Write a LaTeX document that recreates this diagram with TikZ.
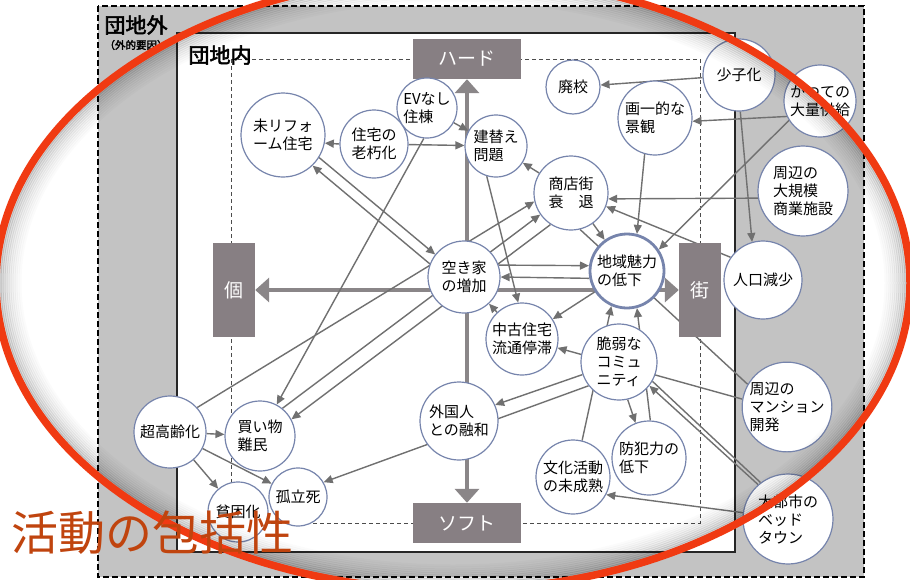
\documentclass[tikz,border=0pt]{standalone}
\usepackage{fontspec}
\setmainfont{Noto Sans CJK JP}[AutoFakeBold=2.5]
\usetikzlibrary{arrows.meta}

\definecolor{boxgray}{RGB}{135,127,131}
\definecolor{outgray}{RGB}{195,195,195}
\definecolor{ringblue}{RGB}{118,132,172}
\definecolor{linegray}{RGB}{112,112,112}
\definecolor{axisgray}{RGB}{138,134,136}
\definecolor{ovalred}{RGB}{240,58,18}
\definecolor{titlebrown}{RGB}{192,68,14}

\pgfdeclarelayer{frame}
\pgfdeclarelayer{edges}
\pgfsetlayers{frame,edges,main}

\tikzset{
  issue/.style={circle, draw=ringblue, line width=1.2pt, fill=white, inner sep=0pt,
    align=left, font=\fontsize{15}{18}\selectfont},
  axisbox/.style={fill=boxgray, text=white, inner sep=0pt, font=\fontsize{19}{19}\selectfont},
  conn/.style={draw=linegray, line width=1.4pt, -{Triangle[length=9pt,width=8pt]}},
  plainconn/.style={draw=linegray, line width=1.4pt},
  axis/.style={draw=axisgray, line width=4pt,
    {Triangle[length=14pt,width=24pt]}-{Triangle[length=14pt,width=24pt]}},
}

\begin{document}
\begin{tikzpicture}[x=1pt,y=-1pt]
  \useasboundingbox (0,0) rectangle (910,579);
  % frames
  \begin{pgfonlayer}{frame}
    \fill[white] (0,0) rectangle (910,579);
    \fill[outgray] (98,6) rectangle (864,577);
    \draw[line width=1.3pt, dash pattern=on 6pt off 3pt] (98,6) rectangle (864,577);
    \draw[draw=black!85, fill=white, line width=1.3pt] (177,33) rectangle (735,552);
    \draw[black!70, line width=.8pt, dash pattern=on 4pt off 3pt] (231,59) rectangle (700,523);
  \end{pgfonlayer}

  \node[anchor=west, font=\fontsize{21}{21}\selectfont\bfseries] (outside) at (101,25) {団地外};
  \node[anchor=west, font=\fontsize{10.5}{10.5}\selectfont\bfseries] (outsidenote) at (101,45) {（外的要因）};
  \node[anchor=west, font=\fontsize{21}{21}\selectfont\bfseries] (inside) at (185,55) {団地内};

  % axis boxes
  \node[axisbox, minimum width=108pt, minimum height=40pt] (hard) at (467,59) {ハード};
  \node[axisbox, minimum width=108pt, minimum height=40pt] (soft) at (467,523) {ソフト};
  \node[axisbox, minimum width=42pt, minimum height=94pt] (ko) at (234,290) {個};
  \node[axisbox, minimum width=42pt, minimum height=94pt] (machi) at (700,290) {街};

  % issues
  \foreach \n/\x/\y/\r/\t in {
      mirf/283/135/42/{未リフォ\\ーム住宅},
      rokyu/374/144/34/{住宅の\\老朽化},
      ev/427/108/30/{EVなし\\住棟},
      tatekae/496/146/31/{建替え\\問題},
      haiko/573/87/27/{廃校},
      keikan/655/118/37/{画一的な\\景観},
      shoshi/739/75/36/{少子化},
      tairyo/820/101/36/{かつての\\大量供給},
      shogyo/803/191/45/{周辺の\\大規模\\商業施設},
      shotengai/571/193/37/{商店街\\衰　退},
      akiya/464/277/36/{空き家\\の増加},
      jinko/763/280/39/{人口減少},
      chuko/522/339/36/{中古住宅\\流通停滞},
      zeijaku/619/362/38/{脆弱な\\コミュ\\ニティ},
      gaikoku/459/421/39/{外国人\\との融和},
      bohan/649/458/37/{防犯力の\\低下},
      bunka/573/477/37/{文化活動\\の未成熟},
      mansion/787/407/44/{周辺の\\マンション\\開発},
      bedtown/788/519/45/{大都市の\\ベッド\\タウン},
      korei/170/432/36/{超高齢化},
      kaimono/260/436/35/{買い物\\難民},
      hinkon/238/512/30/{貧困化},
      koritsu/298/497/29/{孤立死}}
    \node[issue, minimum size={2pt*\r}] (\n) at (\x,\y) {\t};
  \node[issue, line width=2.8pt, minimum size=74pt] (miryoku) at (627,271) {地域魅力\\の低下};

  % connectors
  \begin{pgfonlayer}{edges}
    \draw[axis] (soft) -- (hard);
    \draw[axis] (ko) -- (machi);
    \draw[conn] (rokyu.west) -- (mirf.-11);
    \draw[conn] (rokyu) -- (tatekae);
    \draw[conn] (ev) -- (tatekae);
    \draw[conn] (ev.-96) -- (kaimono.62);
    \draw[conn] (mirf.-32) -- (akiya.142);
    \draw[conn] (akiya.159) -- (mirf.-46);
    \draw[conn] (korei.42) -- (shotengai.193);
    \draw[conn] (kaimono.51) -- (shotengai.215);
    \draw[conn] (shotengai.237) -- (kaimono.28);
    \draw[conn] (shotengai) -- (tatekae);
    \draw[conn] (tatekae.-107) -- (chuko.96);
    \draw[conn] (shotengai) -- (miryoku);
    \draw[plainconn] (mansion.150) -- (shotengai.-76);
    \draw[conn] (keikan.-106) -- (miryoku.75);
    \draw[conn] (tairyo.205) -- (keikan.-5);
    \draw[conn] (tairyo.212) -- (miryoku.34);
    \draw[conn] (shoshi) -- (haiko);
    \draw[conn] (shoshi.-88) -- (jinko.106);
    \draw[conn] (shogyo.189) -- (shotengai.-9);
    \draw[conn] (jinko.145) -- (shotengai.-21);
    \draw[conn] (akiya.19) -- (miryoku.172);
    \draw[conn] (miryoku.191) -- (akiya.0);
    \draw[conn] (miryoku) -- (chuko);
    \draw[conn] (chuko) -- (akiya);
    \draw[conn] (mansion.170) -- (chuko.-14);
    \draw[conn] (bunka.76) -- (miryoku.-114);
    \draw[conn] (bohan.88) -- (miryoku.-75);
    \draw[conn] (zeijaku.-77) -- (bohan.111);
    \draw[conn] (zeijaku.199) -- (gaikoku.24);
    \draw[conn] (zeijaku.218) -- (koritsu.30);
    \draw[conn] (korei) -- (kaimono);
    \draw[conn] (korei) -- (hinkon);
    \draw[conn] (korei) -- (koritsu);
    \draw[conn] (bedtown.131) -- (zeijaku.-38);
    \draw[plainconn] (zeijaku.-30) -- (bedtown.127);
    \draw[conn] (bedtown.172) -- (bunka.-28);
  \end{pgfonlayer}

  % oval with inner shadow
  \begin{scope}
    \clip (0,0) rectangle (910,579);
    \foreach \i/\o in {2/.16,4/.15,6/.13,8/.11,10/.09,12/.08,14/.06,16/.05,18/.04,20/.03,22/.02,24/.015}
      \draw[black, opacity=\o, line width=3pt] (453,283) ellipse [x radius=457-\i, y radius=307-\i];
    \draw[ovalred, line width=7.5pt] (453,283) ellipse [x radius=457, y radius=307];
  \end{scope}
  \node[anchor=west, text=titlebrown, inner sep=0pt, font=\fontsize{47}{47}\selectfont] (title) at (11,533) {活動の包括性};
\end{tikzpicture}
\end{document}
